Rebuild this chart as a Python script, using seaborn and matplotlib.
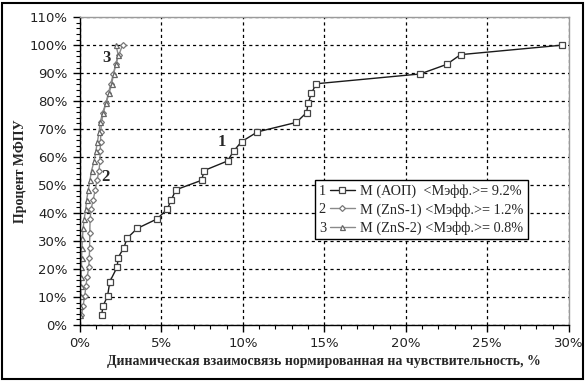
import numpy as np
import pandas as pd
import matplotlib
matplotlib.use("Agg")
import matplotlib.pyplot as plt
import seaborn as sns
from matplotlib.ticker import PercentFormatter, MultipleLocator
from matplotlib.legend_handler import HandlerLine2D
from matplotlib.text import Text
from matplotlib.patches import Rectangle

# ---- data ----
aop_x = [1.33, 1.43, 1.70, 1.84, 1.84, 2.29, 2.35, 2.70, 2.90, 3.52, 4.74, 5.36, 5.62, 5.89,
         7.47, 7.63, 9.06, 9.43, 9.92, 10.90, 13.29, 13.91, 14.01, 14.21, 14.50,
         20.88, 22.50, 23.36, 29.60]
aop_y = [3.4, 6.9, 10.3, 13.8, 17.2, 20.7, 24.1, 27.6, 31.0, 34.5, 37.9, 41.4, 44.8, 48.3,
         51.7, 55.2, 58.6, 62.1, 65.5, 69.0, 72.4, 75.9, 79.3, 82.8, 86.2,
         89.7, 93.1, 96.6, 100.0]

zns1_x = [0.10, 0.20, 0.30, 0.37, 0.45, 0.55, 0.58, 0.60, 0.61, 0.61, 0.63, 0.69, 0.82, 0.95,
          1.05, 1.18, 1.23, 1.25, 1.27, 1.29, 1.32, 1.45, 1.60, 1.75, 1.90, 2.05, 2.20, 2.40, 2.62]
zns1_y = [3.4, 6.9, 10.3, 13.8, 17.2, 20.7, 24.1, 27.6, 31.0, 34.5, 37.9, 41.4, 44.8, 48.3,
          51.7, 55.2, 58.6, 62.1, 65.5, 69.0, 72.4, 75.9, 79.3, 82.8, 86.2, 89.7, 93.1, 96.6, 100.0]

zns2_x = [0.02, 0.03, 0.05, 0.06, 0.08, 0.10, 0.11, 0.13, 0.16, 0.20, 0.27, 0.36, 0.42, 0.52,
          0.62, 0.72, 0.88, 0.98, 1.08, 1.18, 1.25, 1.40, 1.60, 1.80, 1.95, 2.08, 2.20, 2.35, 2.22]
zns2_y = [3.4, 6.9, 10.3, 13.8, 17.2, 20.7, 24.1, 27.6, 31.0, 34.5, 37.9, 41.4, 44.8, 48.3,
          51.7, 55.2, 58.6, 62.1, 65.5, 69.0, 72.4, 75.9, 79.3, 82.8, 86.2, 89.7, 93.1, 96.6, 100.0]

labels = ["M (АОП)  <Мэфф.>= 9.2%", "M (ZnS-1) <Мэфф.>= 1.2%", "M (ZnS-2) <Мэфф.>= 0.8%"]
nums = ["1", "2", "3"]
xlabel = "Динамическая взаимосвязь нормированная на чувствительность, %"
ylabel = "Процент МФПУ"

# ---- style ----
sns.set_style("white")
plt.rcParams['font.family'] = ['Liberation Serif', 'DejaVu Serif']

fig = plt.figure(figsize=(5.87, 3.81), dpi=100)
ax = fig.add_axes([0.136, 0.147, 0.833, 0.808])

series = [
    (aop_x, aop_y, 's', '#1a1a1a', '#444444', 3.8),
    (zns1_x, zns1_y, 'D', '#8a8a8a', '#777777', 3.0),
    (zns2_x, zns2_y, '^', '#8a8a8a', '#666666', 3.6),
]
for (xs, ys, mk, lc, mc, ms), lab in zip(series, labels):
    df = pd.DataFrame({"x": xs, "y": ys})
    sns.lineplot(data=df, x="x", y="y", sort=False, ax=ax, color=lc, lw=1.0,
                 marker=mk, markersize=ms, markerfacecolor='white',
                 markeredgecolor=mc, markeredgewidth=0.9, label=lab)

ax.set_xlim(0, 30)
ax.set_ylim(0, 110)
ax.xaxis.set_major_locator(MultipleLocator(5))
ax.xaxis.set_minor_locator(MultipleLocator(1))
ax.yaxis.set_major_locator(MultipleLocator(10))
ax.yaxis.set_minor_locator(MultipleLocator(2))
ax.xaxis.set_major_formatter(PercentFormatter(decimals=0))
ax.yaxis.set_major_formatter(PercentFormatter(decimals=0))
ax.tick_params(which='major', direction='out', length=5, width=1, color='black',
               labelsize=9.5, pad=4, bottom=True, left=True)
ax.tick_params(which='minor', direction='out', length=3, width=0.8, color='black',
               bottom=True, left=True)
for lbl in ax.get_xticklabels() + ax.get_yticklabels():
    lbl.set_fontfamily(['DejaVu Sans'])
    lbl.set_color('#222222')
ax.grid(True, which='major', color='black', linestyle=(0, (2.5, 2.5)), linewidth=0.9)

for s in ['top', 'right']:
    ax.spines[s].set_color('#9a9a9a')
    ax.spines[s].set_linewidth(1.0)
for s in ['left', 'bottom']:
    ax.spines[s].set_color('black')
    ax.spines[s].set_linewidth(1.0)

ax.set_xlabel(xlabel, fontsize=10, fontweight='bold', labelpad=3)
ax.set_ylabel(ylabel, fontsize=10, fontweight='bold', labelpad=2)

# number labels on curves
ax.text(8.7, 65.5, "1", fontsize=12, fontweight='bold', ha='center', va='center')
ax.text(1.6, 53.0, "2", fontsize=12, fontweight='bold', ha='center', va='center')
ax.text(1.65, 95.5, "3", fontsize=12, fontweight='bold', ha='center', va='center')


class NumHandler(HandlerLine2D):
    def __init__(self, num, **kw):
        super().__init__(**kw)
        self.num = num

    def create_artists(self, legend, orig_handle, xdescent, ydescent, width, height,
                       fontsize, trans):
        shift = 0.3 * width
        arts = super().create_artists(legend, orig_handle, xdescent - shift, ydescent,
                                      width - shift, height, fontsize, trans)
        t = Text(-xdescent, -ydescent + height * 0.35, self.num, fontsize=fontsize,
                 ha='left', va='center', fontfamily='Liberation Serif')
        t.set_transform(trans)
        return list(arts) + [t]


handles, labs = ax.get_legend_handles_labels()
leg = ax.legend(handles, labs, loc='upper left', bbox_to_anchor=(0.48, 0.47),
                fontsize=10.3, frameon=True, fancybox=False, shadow=False,
                handlelength=2.5, handletextpad=0.4, borderpad=0.3, labelspacing=0.32,
                borderaxespad=0,
                handler_map={h: NumHandler(n) for h, n in zip(handles, nums)})
leg.get_frame().set_edgecolor('black')
leg.get_frame().set_linewidth(1.0)
leg.get_frame().set_alpha(1)

fig.add_artist(Rectangle((0.004, 0.006), 0.99, 0.986, transform=fig.transFigure,
                         fill=False, lw=1.5, ec='black'))

fig.savefig("out.png", dpi=100)
